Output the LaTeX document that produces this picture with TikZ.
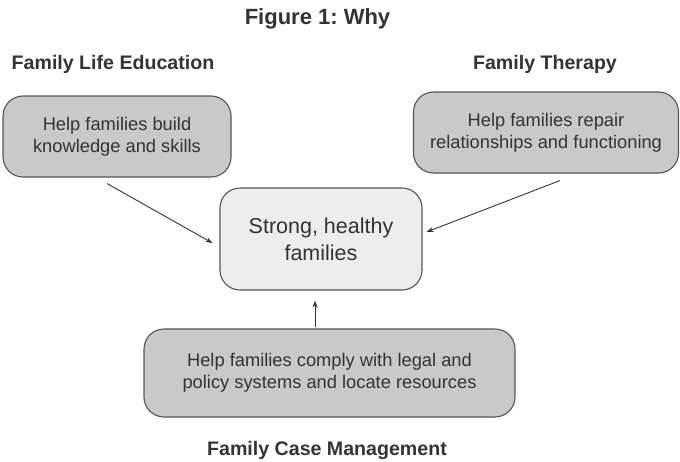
\documentclass[tikz,border=0pt]{standalone}
\usepackage{fontspec}
\setmainfont{Liberation Sans}
\usetikzlibrary{arrows.meta,calc}
\definecolor{boxdark}{HTML}{C9C9C9}
\definecolor{boxlight}{HTML}{EDEDED}
\definecolor{edge}{HTML}{555555}
\definecolor{txt}{HTML}{333333}
\frenchspacing
\begin{document}
\begin{tikzpicture}[x=1pt,y=-1pt,
  darkbox/.style={draw=edge,line width=1.1pt,fill=boxdark,rounded corners=20pt,align=center,text=txt,font=\fontsize{18.3}{22}\selectfont,inner sep=0pt},
  lightbox/.style={draw=edge,line width=1.1pt,fill=boxlight,rounded corners=20pt,align=center,text=txt,font=\fontsize{21.5}{27}\selectfont,inner sep=0pt},
  heading/.style={font=\bfseries\fontsize{19.6}{22}\selectfont,text=txt},
  arr/.style={draw=txt,line width=0.9pt,-{Stealth[length=7pt,width=5pt]}}]
\useasboundingbox (0,0) rectangle (680,461);
\fill[white] (0,0) rectangle (680,461);
\node[heading,font=\bfseries\fontsize{22}{24}\selectfont] (title) at (317.5,19) {Figure 1:\ Why};
\node[heading] (hl) at (113,64) {Family Life Education};
\node[heading] (hr) at (545,64) {Family Therapy};
\node[heading] (hb) at (327,450) {Family Case Management};
\node[darkbox,minimum width=228pt,minimum height=81pt] (lb) at (117,136.5) {Help families build\\knowledge and skills};
\node[darkbox,minimum width=265pt,minimum height=81pt] (rb) at (546,132.5) {Help families repair\\relationships and functioning};
\node[lightbox,minimum width=202pt,minimum height=102pt] (c) at (321,239) {Strong, healthy\\families};
\node[darkbox,minimum width=371pt,minimum height=88pt] (bb) at (329.5,373) {Help families comply with legal and\\policy systems and locate resources};
\draw[arr] ($(lb.south)+(-10,6)$) -- ($(c.west)+(-7,4)$);
\draw[arr] ($(rb.south)+(14,7)$) -- ($(c.east)+(4,-7)$);
\draw[arr] ($(bb.north)+(-14.5,-1)$) -- ($(c.south)+(-6,10)$);
\end{tikzpicture}
\end{document}
